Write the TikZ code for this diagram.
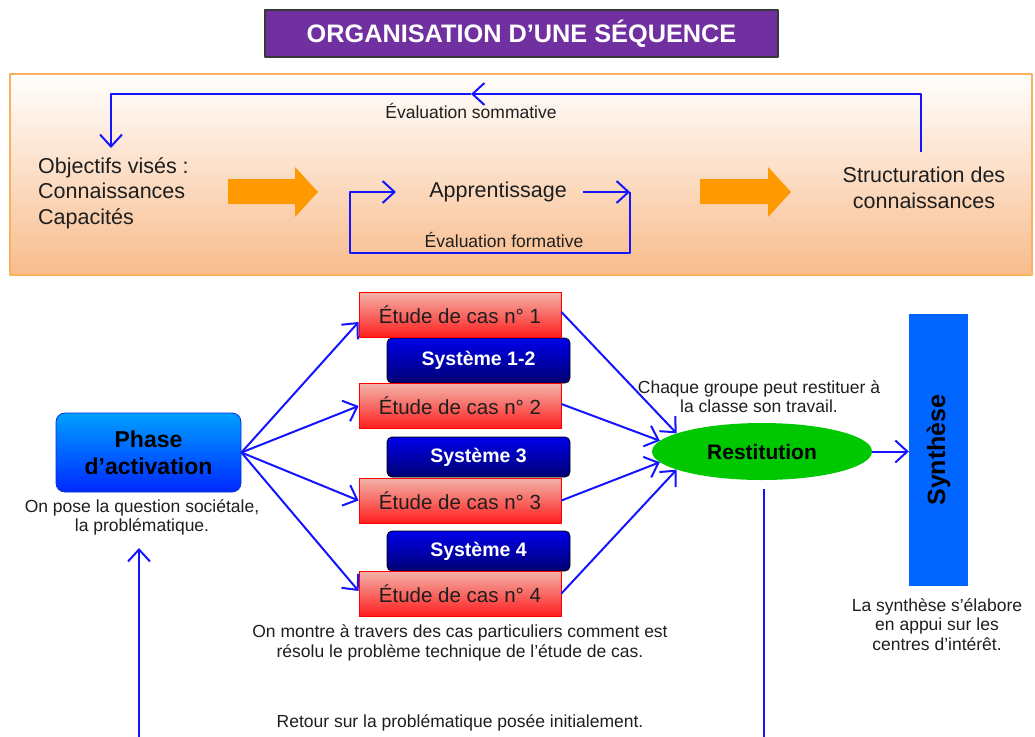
\documentclass[tikz,border=0pt]{standalone}
\usepackage{fontspec}
\setmainfont{Liberation Sans}
\usetikzlibrary{arrows.meta,shapes.geometric,calc}
\definecolor{tpurple}{RGB}{112,48,160}
\definecolor{tborder}{RGB}{55,55,55}
\definecolor{oborder}{RGB}{250,178,90}
\definecolor{opeach}{RGB}{248,188,140}
\definecolor{oarrow}{RGB}{255,153,0}
\definecolor{lblue}{RGB}{20,20,255}
\definecolor{txt}{RGB}{30,30,30}
\definecolor{etop}{RGB}{242,180,170}
\definecolor{ebot}{RGB}{255,30,30}
\definecolor{sysTop}{RGB}{0,0,235}
\definecolor{sysBot}{RGB}{0,0,115}
\definecolor{phTop}{RGB}{0,160,255}
\definecolor{phBot}{RGB}{0,40,255}
\definecolor{phBorder}{RGB}{0,50,220}
\definecolor{rgreen}{RGB}{0,200,0}
\definecolor{sblue}{RGB}{0,102,255}
\begin{document}
\begin{tikzpicture}[x=1pt,y=-1pt,
  line join=round,
  conn/.style={draw=lblue, line width=2pt, -{Straight Barb[length=12pt,width=22pt]}},
  plain/.style={draw=lblue, line width=2pt},
  small/.style={font=\fontsize{17.5}{19.5}\selectfont, text=txt, align=center, inner sep=0pt},
  big/.style={font=\fontsize{21.5}{25.5}\selectfont, text=txt, inner sep=0pt},
  etude/.style={draw=red, line width=0.8pt, top color=etop, bottom color=ebot, minimum width=202pt, minimum height=45pt, inner sep=0pt, font=\fontsize{20.5}{24}\selectfont, text=txt},
  systeme/.style={draw=black, line width=0.8pt, rounded corners=5pt, top color=sysTop, bottom color=sysBot, minimum width=183pt, inner sep=0pt, font=\bfseries\fontsize{19.5}{23}\selectfont, text=white},
]
\useasboundingbox (0,0) rectangle (1035,736);

% title
\node[draw=tborder, line width=2pt, fill=tpurple, minimum width=513pt, minimum height=47pt, inner sep=0pt, text=white, font=\bfseries\fontsize{25.3}{30}\selectfont] (title) at (521.5,33.5) {ORGANISATION D’UNE SÉQUENCE};

% top box
\node[draw=oborder, line width=2pt, top color=white, bottom color=opeach, minimum width=1022pt, minimum height=201pt, inner sep=0pt] (topbox) at (521,174.5) {};

% orange block arrows
\fill[oarrow] (228,179) -- (295,179) -- (295,167) -- (318,192) -- (295,217) -- (295,204) -- (228,204) -- cycle;
\fill[oarrow] (700,179) -- (768,179) -- (768,167) -- (791,192) -- (768,217) -- (768,204) -- (700,204) -- cycle;

\node[big, align=left, anchor=west] (obj) at (38,193) {Objectifs visés :\\Connaissances\\Capacités};
\node[big, align=center] (struct) at (924,188) {Structuration des\\connaissances};
\node[big] (appr) at (498,192) {Apprentissage};
\node[small] (lsom) at (471,111) {Évaluation sommative};
\node[small] (lform) at (504,240) {Évaluation formative};

% summative loop
\coordinate (somA) at (921,152);
\coordinate (somB) at (921,94);
\coordinate (somM) at (471,94);
\coordinate (somC) at (111,94);
\coordinate (somD) at (111,148);
\draw[conn] (somA) -- (somB) -- (somM);
\draw[conn] (somM) -- (somC) -- (somD);

% formative loop
\coordinate (fA) at (583,192);
\coordinate (fB) at (630,192);
\coordinate (fC) at (630,253);
\coordinate (fD) at (350,253);
\coordinate (fE) at (350,192);
\coordinate (fF) at (396,192);
\draw[conn] (fA) -- (fB);
\draw[conn] (fB) -- (fC) -- (fD) -- (fE) -- (fF);

% lower part
\node[systeme, minimum height=45pt] (s12) at (478.5,360.5) {Système 1-2};
\node[systeme, minimum height=40pt] (s3) at (478.5,457) {Système 3};
\node[systeme, minimum height=40pt] (s4) at (478.5,551) {Système 4};

\node[etude] (e1) at (460,314.5) {Étude de cas n° 1};
\node[etude] (e2) at (460,406) {Étude de cas n° 2};
\node[etude] (e3) at (460,500.5) {Étude de cas n° 3};
\node[etude] (e4) at (460,593.5) {Étude de cas n° 4};

\node[draw=phBorder, line width=0.8pt, rounded corners=9pt, top color=phTop, bottom color=phBot, minimum width=185pt, minimum height=79pt, align=center, font=\bfseries\fontsize{23}{27}\selectfont, inner sep=0pt] (phase) at (148.5,452.5) {Phase\\d’activation};
\node[small] (phlbl) at (142,517.5) {On pose la question sociétale,\\la problématique.};

\node[ellipse, fill=rgreen, minimum width=220pt, minimum height=57pt, inner sep=0pt, font=\bfseries\fontsize{21}{25}\selectfont] (rest) at (762,451.5) {Restitution};
\node[rotate=90, fill=sblue, minimum width=272pt, minimum height=59pt, inner sep=0pt, font=\bfseries\fontsize{25}{30}\selectfont] (synth) at (938.5,450) {Synthèse};

\node[small] (chq) at (759,396.5) {Chaque groupe peut restituer à\\la classe son travail.};
\node[small] (montre) at (460,643) {On montre à travers des cas particuliers comment est\\résolu le problème technique de l’étude de cas.};
\node[small] (retour) at (460,723) {Retour sur la problématique posée initialement.};
\node[small] (synlbl) at (937,624.5) {La synthèse s’élabore\\en appui sur les\\centres d’intérêt.};

% connectors
\draw[conn] (phase.east) -- ([yshift=-7.5pt]e1.west);
\draw[conn] (phase.east) -- (e2.west);
\draw[conn] (phase.east) -- (e3.west);
\draw[conn] (phase.east) -- ([yshift=2.5pt]e4.west);

\draw[conn] ([yshift=2.5pt]e1.east) -- (rest.168);
\draw[conn] ([yshift=2pt]e2.east) -- (rest.174);
\draw[conn] (e3.east) -- (rest.186);
\draw[conn] (e4.east) -- (rest.192);

\draw[conn] (rest.east) -- (rest.east -| synth.north);

\coordinate (rdA) at (764,489);
\coordinate (rdB) at (764,740);
\draw[plain] (rdA) -- (rdB);
\coordinate (ruA) at (139,740);
\coordinate (ruB) at (139,548);
\draw[conn] (ruA) -- (ruB);
\end{tikzpicture}
\end{document}
